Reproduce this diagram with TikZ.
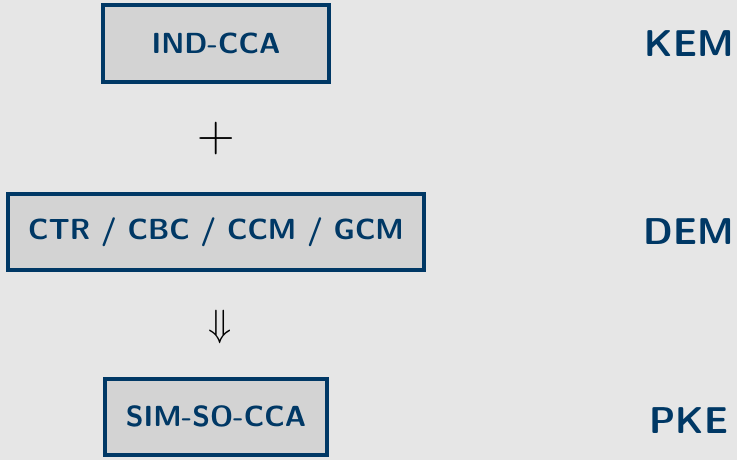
\documentclass[tikz,border=0pt]{standalone}
\usepackage{fix-cm}
\definecolor{bg}{HTML}{E6E6E6}
\definecolor{boxfill}{HTML}{D3D3D3}
\definecolor{navy}{HTML}{003865}
\begin{document}
\begin{tikzpicture}[x=0.75pt,y=-0.75pt,
  secbox/.style={draw=navy,line width=3pt,fill=boxfill,text=navy,
    font=\sffamily\bfseries\fontsize{21.8}{25}\selectfont,minimum height=76*0.75pt,inner sep=0pt},
  lbl/.style={text=navy,font=\sffamily\bfseries\fontsize{28}{32}\selectfont,inner sep=0pt},
  sym/.style={inner sep=0pt}]
\fill[bg] (0,0) rectangle (737,460);
\useasboundingbox (0,0) rectangle (737,460);
\node[secbox,minimum width=226*0.75pt] (ind) at (216,43.5) {IND-CCA};
\node[sym,font=\fontsize{39}{44}\selectfont] (plus) at (216,138.5) {$+$};
\node[secbox,minimum width=416*0.75pt] (ctr) at (216,232) {CTR / CBC / CCM / GCM};
\node[sym,font=\fontsize{28.5}{32}\selectfont] (impl) at (220.5,327) {$\Downarrow$};
\node[secbox,minimum width=222*0.75pt] (sim) at (216,416.5) {SIM-SO-CCA};
\node[lbl] (kem) at (689,44) {KEM};
\node[lbl] (dem) at (689,232) {DEM};
\node[lbl] (pke) at (689,421) {PKE};
\end{tikzpicture}
\end{document}
